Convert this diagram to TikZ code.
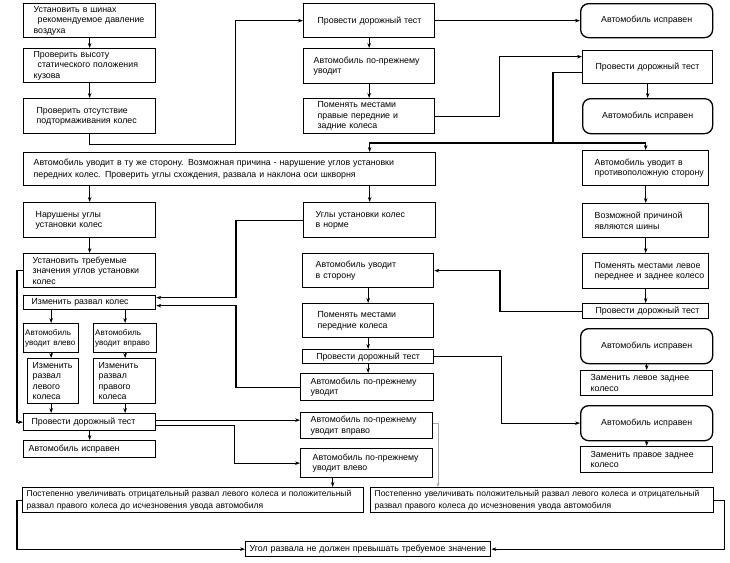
\documentclass[tikz,border=0pt]{standalone}
\usepackage{fontspec}
\setmainfont{Liberation Sans}
\usetikzlibrary{arrows.meta}
\tikzset{
  bx/.style={draw, line width=1.3pt, anchor=north west, inner xsep=0pt, inner ysep=0pt,
    font=\fontsize{8.8}{10.5}\selectfont},
  rnd/.style={rounded corners=8pt},
  arr/.style={-{Stealth[length=5pt,width=3.6pt]}},
  thinarr/.style={draw=gray!70, line width=0.6pt, -{Stealth[length=4pt,width=3pt]}},
  smallfont/.style={font=\fontsize{8.1}{10.5}\selectfont},
  widefont/.style={font=\fontsize{8.5}{12.5}\selectfont},
}
\newcommand\boxat[8][]{%
  \pgfmathsetmacro\bw{#5-#3}\pgfmathsetmacro\bh{#6-#4}%
  \node[bx,align=left,minimum width=\bw pt,minimum height=\bh pt,text width=\bw pt,#1] (#2) at (#3,#4)
    {\leftskip=#7pt\rightskip=-40pt plus 1fil\relax #8\par};}
\newcommand\cboxat[7][]{%
  \pgfmathsetmacro\bw{#5-#3}\pgfmathsetmacro\bh{#6-#4}%
  \node[bx,align=center,minimum width=\bw pt,minimum height=\bh pt,text width=\bw pt,#1] (#2) at (#3,#4) {#7};}
\begin{document}
\begin{tikzpicture}[x=1pt,y=-1pt,line width=1.2pt]
\fill[white] (0,0) rectangle (730,562);
\useasboundingbox (0,0) rectangle (730,562);

% left column top
\boxat{A}{23}{3}{155}{37}{10}{Установить в шинах\\\hspace*{4pt}рекомендуемое давление\\воздуха}
\boxat{B}{23}{48}{155}{82}{10}{Проверить высоту\\\hspace*{4pt}статического положения\\кузова}
\boxat{C}{23}{98}{155}{133}{13}{Проверить отсутствие\\подтормаживания колес}
% middle column top
\boxat{D}{303}{3}{434}{37}{14}{Провести дорожный тест}
\cboxat[rnd]{E}{580}{3}{712}{37}{Автомобиль исправен}
\boxat{F}{303}{48}{434}{83}{10}{Автомобиль по-прежнему\\уводит}
\boxat{G}{303}{98}{434}{133}{14}{Поменять местами\\правые передние и\\задние колеса}
\boxat{H}{582}{50}{712}{83}{13}{Провести дорожный тест}
\cboxat[rnd]{I}{582}{98}{712}{133}{Автомобиль исправен}
% second band
\boxat[font=\fontsize{8.8}{12.5}\selectfont]{J}{23}{152}{435}{185}{10}{Автомобиль уводит в ту же сторону. Возможная причина - нарушение углов установки\\передних колес. Проверить углы схождения, развала и наклона оси шкворня}
\boxat{K}{582}{150}{708}{185}{12}{Автомобиль уводит в\\противоположную сторону}
\boxat{L}{23}{202}{155}{237}{12}{Нарушены углы\\установки колес}
\boxat{M}{303}{202}{435}{237}{12}{Углы установки колес\\в норме}
\boxat{N}{582}{203}{708}{237}{12}{Возможной причиной\\являются шины}
\boxat{O}{582}{253}{708}{288}{12}{Поменять местами левое\\переднее и заднее колесо}
\boxat{P}{582}{303}{708}{318}{13}{Провести дорожный тест}
% middle column lower
\boxat{Q}{302}{253}{433}{287}{13}{Автомобиль уводит\\в сторону}
\boxat{R}{302}{303}{433}{337}{15}{Поменять местами\\передние колеса}
\cboxat{S}{302}{349}{433}{363}{Провести дорожный тест}
\boxat{T}{300}{373}{433}{400}{10}{Автомобиль по-прежнему\\уводит}
\boxat{BB}{300}{412}{432}{438}{10}{Автомобиль по-прежнему\\уводит вправо}
\boxat{CC}{300}{448}{432}{477}{12}{Автомобиль по-прежнему\\уводит влево}
% right column lower
\cboxat[rnd]{U1}{580}{328}{712}{363}{Автомобиль исправен}
\boxat{V1}{580}{370}{712}{395}{10}{Заменить левое заднее\\колесо}
\cboxat[rnd]{U2}{580}{405}{712}{440}{Автомобиль исправен}
\boxat{V2}{580}{446}{712}{472}{10}{Заменить правое заднее\\колесо}
% left column lower
\boxat{W}{23}{253}{155}{287}{9}{Установить требуемые\\значения углов установки\\колес}
\boxat{X}{23}{295}{155}{309}{8}{Изменить развал колес}
\boxat[smallfont]{Y1}{23}{323}{78}{352}{1.5}{Автомобиль\\уводит влево}
\boxat[smallfont]{Y2}{93}{323}{156}{352}{1.5}{Автомобиль\\уводит вправо}
\boxat{Z1}{27}{358}{78}{403}{5}{Изменить\\развал\\левого\\колеса}
\boxat{Z2}{93}{358}{155}{403}{5}{Изменить\\развал\\правого\\колеса}
\boxat{T5}{23}{413}{155}{430}{8}{Провести дорожный тест}
\boxat{AA}{23}{440}{155}{457}{5}{Автомобиль исправен}
% bottom
\boxat[widefont]{DD1}{22}{487}{363}{512}{4}{Постепенно увеличивать отрицательный развал левого колеса и положительный\\развал правого колеса до исчезновения увода автомобиля}
\boxat[widefont]{DD2}{370}{487}{713}{512}{4}{Постепенно увеличивать положительный развал левого колеса и отрицательный\\развал правого колеса до исчезновения увода автомобиля}
\boxat{EE}{245}{541}{490}{556}{4}{Угол развала не должен превышать требуемое значение}

% connectors
\draw[arr] (A.south) -- (B.north);
\draw[arr] (B.south) -- (C.north);
\draw[arr] (C.south) -- ++(0,10) -- ++(146,0) |- (D.west);
\draw[arr] (D.east) -- (E.west);
\draw[arr] (D.south) -- (F.north);
\draw[arr] (F.south) -- (G.north);
\draw[arr] (G.east) -- ++(64,0) |- ([yshift=10.5pt]H.west);
\draw[arr] (H.south) -- (I.north);
\coordinate (s1) at (553,143);
\draw ([yshift=-5.5pt]H.west) -| (s1);
\draw[arr] (s1) -| (J.north -| M.north);
\draw[arr] (s1) -| (K.north);
\draw[arr] (J.south -| L.north) -- (L.north);
\draw[arr] (J.south -| M.north) -- (M.north);
\draw[arr] (M.west) -- ++(-67,0) |- ([yshift=5pt]X.east);
\draw[arr] (K.south) -- (N.north);
\draw[arr] (N.south) -- (O.north);
\draw[arr] (O.south) -- (P.north);
\draw[arr] (P.west) -- ++(-82,0) |- (Q.east);
\draw[arr] (Q.south) -- (R.north);
\draw[arr] (R.south) -- (S.north);
\draw[arr] (S.south) -- (S.south |- T.north);
\draw[arr] (T.west) -- ++(-64,0) |- ([yshift=-3pt]X.east);
\draw[arr] (S.east) -- ++(67,0) |- (U2.west);
\draw[arr] (U1.south) -- (V1.north);
\draw[arr] (U2.south) -- (V2.north);
\draw[arr] (L.south) -- (W.north);
\draw[arr] (W.west) -- ++(-6,0) |- (T5.west);
\draw[arr] (X.south -| Y1.north) -- (Y1.north);
\draw[arr] (X.south -| Y2.north) -- (Y2.north);
\draw[arr] (Y1.south) -- (Y1.south |- Z1.north);
\draw[arr] (Y2.south) -- (Y2.south |- Z2.north);
\draw[arr] (Z1.south -| Y1.south) -- (Y1.south |- T5.north);
\draw[arr] (Z2.south -| Y2.south) -- (Y2.south |- T5.north);
\draw[arr] (T5.south) -- (AA.north);
\draw[arr] ([yshift=2pt]T5.east) -- ([yshift=2pt]T5.east -| BB.west);
\draw[arr] ([yshift=-3pt]T5.east) -- ++(78,0) |- (CC.west);
\draw[thinarr] ([yshift=2pt]BB.east) -| ([xshift=68pt]DD2.north west);
\draw[arr] ([xshift=-34pt]CC.south) -- ([xshift=-34pt]CC.south |- DD1.north);
\draw[arr] (DD1.west) -- ++(-5,0) |- (EE.west);
\draw[arr] (DD2.east) -- ++(10,0) |- (EE.east);
\end{tikzpicture}
\end{document}
